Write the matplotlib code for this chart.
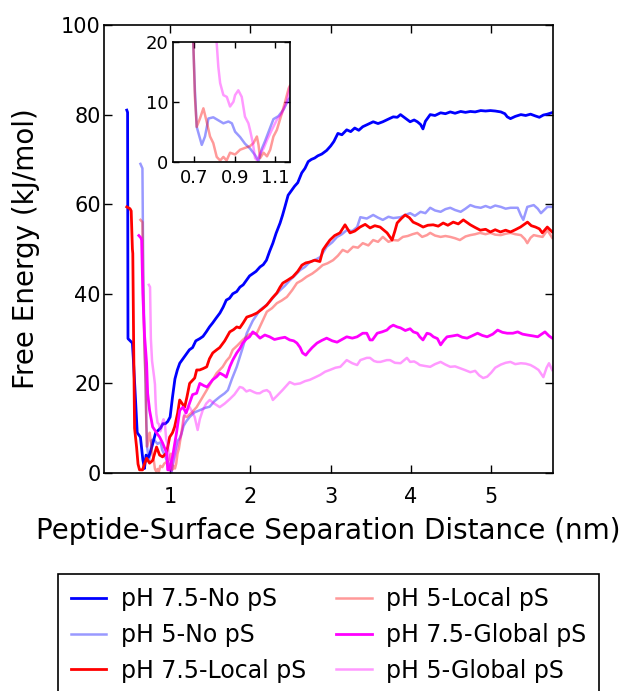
import numpy as np
import matplotlib
matplotlib.use("Agg")
import matplotlib.pyplot as plt

# (distance nm, free energy kJ/mol)
b75 = np.array([
    (0.46, 81), (0.47, 80.5), (0.475, 30), (0.53, 29), (0.54, 26), (0.57, 16), (0.59, 9),
    (0.61, 8.5), (0.63, 8), (0.66, 3), (0.68, 1), (0.70, 4), (0.73, 3.5), (0.76, 5),
    (0.79, 7), (0.82, 9), (0.85, 9.5), (0.88, 10), (0.91, 11), (0.94, 11), (0.97, 11.5),
    (1.00, 12.5), (1.03, 17), (1.06, 21), (1.09, 23), (1.12, 24.5), (1.16, 25.5),
    (1.20, 26.5), (1.24, 27.5), (1.28, 28), (1.32, 29.5), (1.37, 30), (1.41, 30.5),
    (1.45, 31.5), (1.49, 32.6), (1.53, 33.5), (1.57, 34.5), (1.62, 35.7), (1.66, 37),
    (1.70, 38.6), (1.74, 39), (1.78, 40), (1.83, 40.5), (1.87, 41.5), (1.91, 42),
    (1.95, 43), (1.99, 44), (2.03, 44.5), (2.07, 45), (2.12, 46), (2.16, 46.5),
    (2.20, 47.5), (2.24, 49.5), (2.28, 51.3), (2.32, 53.5), (2.37, 55.8), (2.40, 57.5),
    (2.43, 59.4), (2.47, 62), (2.51, 63), (2.55, 64), (2.59, 64.8), (2.64, 67), (2.68, 68),
    (2.72, 69.5), (2.76, 70), (2.80, 70.3), (2.84, 70.8), (2.89, 71.2), (2.95, 72),
    (3.00, 73), (3.04, 74), (3.09, 75.8), (3.14, 75.5), (3.20, 76.6), (3.25, 76.2),
    (3.30, 77), (3.35, 76.5), (3.40, 77.3), (3.46, 77.8), (3.53, 78.4), (3.59, 78.0),
    (3.65, 78.4), (3.72, 79.0), (3.78, 79.5), (3.83, 79.4), (3.87, 80), (3.93, 79.2),
    (3.99, 78.4), (4.04, 78.8), (4.08, 78.4), (4.12, 77.8), (4.15, 76.8), (4.18, 78.5),
    (4.24, 80), (4.30, 79.8), (4.37, 80.4), (4.43, 80.2), (4.49, 80.6), (4.55, 80.3),
    (4.62, 80.7), (4.68, 80.5), (4.74, 80.7), (4.80, 80.6), (4.87, 80.9), (4.93, 80.8),
    (4.99, 80.9), (5.05, 80.8), (5.12, 80.6), (5.17, 80.2), (5.20, 79.5), (5.24, 79.1),
    (5.30, 79.6), (5.37, 80), (5.43, 79.8), (5.49, 80.1), (5.55, 79.7), (5.60, 79.4),
    (5.65, 79.9), (5.70, 80.1), (5.77, 80.5),
])

b5 = np.array([
    (0.63, 69), (0.655, 68), (0.665, 45), (0.68, 30), (0.695, 19.8), (0.703, 12),
    (0.712, 5.9), (0.737, 2.9), (0.753, 4.3), (0.77, 7.3), (0.794, 7.5), (0.819, 7.0),
    (0.844, 6.5), (0.869, 6.8), (0.886, 6.5), (0.902, 5.1), (0.927, 4.2), (0.951, 3.1),
    (0.976, 2.3), (1.001, 1.2), (1.018, 0.2), (1.035, 2.3), (1.05, 3.5), (1.067, 5.0),
    (1.092, 7.2), (1.117, 7.7), (1.142, 8.8), (1.167, 10.5), (1.20, 11.5), (1.243, 12.5),
    (1.30, 13.5), (1.368, 14), (1.43, 14.5), (1.493, 14.8), (1.55, 16), (1.618, 17),
    (1.68, 17.8), (1.72, 18.5), (1.77, 21), (1.83, 23.7), (1.87, 26), (1.905, 28),
    (1.955, 31.2), (2.03, 34), (2.12, 36.4), (2.18, 37.2), (2.24, 38.2), (2.30, 39.5),
    (2.37, 40.8), (2.43, 41.8), (2.49, 43), (2.55, 44), (2.62, 45.3), (2.68, 46),
    (2.74, 47.1), (2.80, 47.5), (2.87, 48.2), (2.95, 50.5), (3.02, 51.5), (3.08, 52.7),
    (3.14, 53.3), (3.20, 54.2), (3.27, 54.0), (3.33, 54.9), (3.37, 57.1), (3.45, 56.8),
    (3.53, 57.6), (3.59, 57.0), (3.65, 56.5), (3.72, 57.2), (3.78, 56.9), (3.87, 57.1),
    (3.93, 57.6), (3.99, 58), (4.05, 57.4), (4.12, 58.3), (4.18, 58.0), (4.24, 59.2),
    (4.30, 58.6), (4.37, 58.3), (4.43, 58.9), (4.49, 59.2), (4.55, 58.7), (4.62, 58.3),
    (4.68, 59.0), (4.74, 59.8), (4.80, 59.4), (4.87, 59.2), (4.93, 59.6), (4.99, 59.2),
    (5.05, 59.7), (5.12, 59.4), (5.18, 59.0), (5.24, 59.2), (5.33, 59.2), (5.37, 57.5),
    (5.40, 56.5), (5.45, 59.4), (5.53, 59.8), (5.58, 59.0), (5.62, 58), (5.70, 59.4),
    (5.77, 59.4),
])

r75 = np.array([
    (0.46, 59.4), (0.50, 59), (0.515, 58.5), (0.53, 50), (0.535, 49), (0.545, 30),
    (0.557, 10), (0.582, 5.8), (0.60, 2), (0.619, 0.7), (0.657, 0.7), (0.68, 2),
    (0.707, 3.3), (0.744, 2.2), (0.782, 2.8), (0.81, 4.5), (0.831, 5.8), (0.869, 4),
    (0.906, 3.6), (0.956, 4.5), (0.994, 8), (1.03, 9), (1.056, 10.3), (1.094, 13.4),
    (1.119, 16.3), (1.15, 15.5), (1.181, 14.7), (1.21, 17), (1.243, 20), (1.306, 21.2),
    (1.331, 23), (1.368, 23), (1.41, 23.3), (1.456, 23.7), (1.49, 25.5), (1.531, 26.8),
    (1.58, 27.5), (1.618, 28), (1.68, 29.5), (1.743, 31.5), (1.79, 32), (1.83, 32.6),
    (1.868, 32.4), (1.91, 33.5), (1.955, 34.8), (2.02, 35.2), (2.08, 35.7), (2.14, 36.5),
    (2.205, 37.5), (2.27, 39), (2.33, 40.2), (2.37, 41.5), (2.404, 42.4), (2.46, 43),
    (2.529, 43.8), (2.59, 45), (2.642, 46.4), (2.69, 46.9), (2.742, 47.1), (2.80, 47.5),
    (2.866, 47.2), (2.904, 49.8), (2.95, 51), (2.991, 52), (3.05, 53), (3.116, 53.6),
    (3.179, 55.4), (3.241, 53.6), (3.30, 54), (3.366, 54.9), (3.43, 55.5), (3.491, 54.7),
    (3.55, 55.2), (3.616, 54.9), (3.703, 53.6), (3.765, 52), (3.80, 54), (3.828, 55.8),
    (3.88, 56.8), (3.928, 57.6), (3.98, 57.0), (4.027, 56), (4.09, 55.5), (4.152, 54.9),
    (4.21, 55.3), (4.277, 55.4), (4.34, 55.1), (4.402, 55.8), (4.46, 55.3), (4.527, 56),
    (4.59, 55.6), (4.653, 56.5), (4.74, 55.4), (4.80, 54.8), (4.865, 54.2), (4.93, 54.4),
    (4.99, 53.8), (5.05, 54.3), (5.115, 53.8), (5.18, 54.2), (5.24, 53.8), (5.30, 54.3),
    (5.365, 54.9), (5.452, 56), (5.50, 55.2), (5.552, 54.9), (5.60, 54.5), (5.637, 53.6),
    (5.699, 54.9), (5.761, 53.8),
])

r5 = np.array([
    (0.63, 56.5), (0.655, 56), (0.665, 40), (0.68, 28), (0.695, 20), (0.703, 10.9),
    (0.712, 5.9), (0.728, 7.3), (0.745, 9.0), (0.761, 6.8), (0.778, 4.3), (0.794, 3.2),
    (0.811, 0.9), (0.828, 0.3), (0.844, 0.9), (0.86, 0.3), (0.877, 1.6), (0.902, 1.3),
    (0.927, 2.1), (0.951, 2.4), (0.976, 2.7), (0.993, 3.2), (1.01, 4.3), (1.018, 2.9),
    (1.026, 0.7), (1.043, 1.6), (1.06, 1.0), (1.076, 2.1), (1.092, 4.3), (1.109, 5.4),
    (1.134, 8.2), (1.15, 10.1), (1.167, 12.3), (1.174, 12.8), (1.206, 12.5), (1.27, 13.5),
    (1.33, 14.7), (1.39, 16.5), (1.456, 18.5), (1.52, 20.5), (1.58, 22.3), (1.655, 23.7),
    (1.70, 25), (1.743, 25.9), (1.78, 27.5), (1.84, 28.5), (1.905, 29.7), (1.99, 31),
    (2.08, 31.2), (2.14, 33.5), (2.205, 36.0), (2.27, 36.8), (2.33, 37.9), (2.39, 38.5),
    (2.455, 39.3), (2.52, 40.8), (2.58, 42.4), (2.64, 43), (2.70, 43.8), (2.77, 44.5),
    (2.83, 45.3), (2.90, 46.4), (2.96, 46.8), (3.03, 47.5), (3.09, 48.5), (3.15, 49.8),
    (3.21, 49.3), (3.28, 50.5), (3.34, 50.3), (3.40, 51.3), (3.47, 50.8), (3.53, 52),
    (3.59, 51.6), (3.65, 52.7), (3.72, 51.6), (3.78, 52), (3.84, 51.9), (3.90, 52.7),
    (3.96, 52.9), (4.02, 53.3), (4.08, 53.6), (4.14, 52.7), (4.20, 53.1), (4.24, 53.6),
    (4.30, 53.0), (4.37, 52.7), (4.43, 52.9), (4.49, 52.7), (4.55, 52.4), (4.61, 52),
    (4.68, 52.8), (4.74, 53.1), (4.80, 53.3), (4.86, 53.6), (4.93, 53.3), (4.99, 53.6),
    (5.05, 53.2), (5.12, 53.1), (5.18, 53.4), (5.24, 53.6), (5.30, 53.3), (5.37, 53.1),
    (5.42, 52.2), (5.45, 51.3), (5.49, 52.5), (5.53, 53.1), (5.58, 52.9), (5.64, 52.7),
    (5.70, 54.2), (5.76, 52.5),
])

m75 = np.array([
    (0.61, 53), (0.635, 52.5), (0.645, 52), (0.66, 40), (0.68, 31), (0.707, 24.5),
    (0.72, 17.8), (0.744, 14), (0.782, 10.3), (0.83, 9), (0.87, 8), (0.906, 6.7),
    (0.956, 4.5), (0.97, 0.7), (0.99, 0.7), (1.03, 3.6), (1.08, 9), (1.12, 14),
    (1.16, 14.7), (1.20, 13.4), (1.24, 15.5), (1.28, 17.5), (1.33, 17.8), (1.37, 20),
    (1.42, 19.5), (1.46, 19.2), (1.53, 20.8), (1.58, 21.5), (1.62, 22.3), (1.67, 21.8),
    (1.70, 21.4), (1.743, 23.7), (1.78, 25.2), (1.83, 26.8), (1.87, 27.8), (1.905, 29),
    (1.95, 29.9), (1.99, 30.4), (2.03, 31.5), (2.07, 31), (2.12, 30.1), (2.18, 30.8),
    (2.24, 30.4), (2.30, 29.8), (2.37, 30.1), (2.43, 30.3), (2.49, 29.7), (2.54, 29.5),
    (2.58, 29), (2.62, 28), (2.65, 26.8), (2.69, 26.3), (2.72, 27), (2.77, 28),
    (2.83, 29), (2.89, 29.6), (2.95, 30.1), (3.02, 29.5), (3.08, 29.2), (3.14, 29.8),
    (3.20, 30.4), (3.27, 30.1), (3.33, 30.4), (3.40, 31.2), (3.45, 31.2), (3.49, 29.7),
    (3.52, 29.7), (3.58, 31.2), (3.64, 31.5), (3.70, 31.9), (3.74, 32.6), (3.78, 33),
    (3.83, 32.6), (3.87, 32.4), (3.93, 31.8), (3.99, 32.2), (4.03, 31.5), (4.08, 31.2),
    (4.11, 30.4), (4.15, 29.7), (4.20, 31.2), (4.24, 31.0), (4.28, 30.4), (4.33, 30.0),
    (4.37, 28.6), (4.41, 29.6), (4.45, 30.4), (4.52, 30.6), (4.58, 30.8), (4.64, 30.3),
    (4.70, 30.1), (4.76, 30.6), (4.83, 31.2), (4.89, 30.7), (4.95, 30.4), (5.02, 31.0),
    (5.08, 31.9), (5.14, 31.4), (5.20, 31.2), (5.27, 31.2), (5.33, 31.5), (5.39, 31.0),
    (5.45, 30.8), (5.52, 30.6), (5.58, 30.4), (5.62, 30.9), (5.67, 31.5), (5.72, 30.6),
    (5.76, 30.1),
])

m5 = np.array([
    (0.735, 42), (0.75, 41.5), (0.76, 30), (0.775, 25), (0.80, 21.5), (0.811, 19.8),
    (0.819, 15.9), (0.828, 13.2), (0.844, 11.2), (0.861, 10.9), (0.877, 9.3), (0.894, 10.1),
    (0.902, 11.2), (0.918, 12.0), (0.935, 10.9), (0.951, 7.6), (0.968, 6.5), (0.976, 5.4),
    (0.99, 3.2), (1.001, 0.7), (1.012, 0.3), (1.026, 1.5), (1.043, 2.3), (1.06, 3.7),
    (1.084, 5.4), (1.109, 7.1), (1.134, 8.2), (1.158, 10.1), (1.174, 12.6), (1.20, 14),
    (1.243, 14.7), (1.28, 13.5), (1.306, 12.5), (1.343, 9.6), (1.37, 12), (1.406, 14),
    (1.45, 15.5), (1.493, 16.3), (1.55, 15.5), (1.618, 14.7), (1.68, 15.5), (1.743, 16.5),
    (1.80, 17.5), (1.868, 19.2), (1.905, 19.0), (1.95, 18.2), (1.993, 18.5), (2.05, 18.0),
    (2.08, 17.8), (2.117, 17.8), (2.16, 18.3), (2.205, 18.5), (2.242, 18.0), (2.28, 16.3),
    (2.33, 17.2), (2.40, 18.5), (2.49, 20.3), (2.55, 19.8), (2.62, 20), (2.68, 20.5),
    (2.74, 20.8), (2.80, 21.3), (2.87, 21.9), (2.93, 22.6), (2.99, 23), (3.06, 23.5),
    (3.12, 23.7), (3.20, 25.2), (3.27, 24.5), (3.33, 24.1), (3.37, 25.2), (3.45, 25.7),
    (3.49, 25.7), (3.54, 25.0), (3.58, 24.8), (3.62, 24.8), (3.70, 25.2), (3.74, 25.2),
    (3.80, 24.6), (3.87, 24.5), (3.95, 25.7), (3.99, 24.8), (4.04, 24.9), (4.08, 24.5),
    (4.11, 24.1), (4.17, 23.9), (4.24, 23.7), (4.30, 24.3), (4.37, 24.8), (4.43, 24.2),
    (4.49, 23.7), (4.55, 23.8), (4.61, 23.4), (4.67, 23.0), (4.74, 22.5), (4.80, 22.8),
    (4.85, 21.8), (4.90, 21.2), (4.95, 21.5), (5.00, 22.4), (5.05, 23.5), (5.12, 24.2),
    (5.18, 24.6), (5.24, 24.8), (5.30, 24.3), (5.37, 24.5), (5.43, 24.4), (5.49, 24.1),
    (5.54, 23.6), (5.59, 23), (5.65, 21.4), (5.69, 23.5), (5.72, 24.5), (5.76, 23),
])

labels = ["pH 7.5-No pS", "pH 5-No pS", "pH 7.5-Local pS",
          "pH 5-Local pS", "pH 7.5-Global pS", "pH 5-Global pS"]
curves = [b75, b5, r75, r5, m75, m5]
colors = ["#0000ff", "#0000ff", "#ff0000", "#ff0000", "#ff00ff", "#ff00ff"]
alphas = [1.0, 0.4, 1.0, 0.4, 1.0, 0.4]
widths = [2.0, 1.8, 2.0, 1.8, 2.0, 1.8]

W, H = 626, 691
fig = plt.figure(figsize=(W / 100, H / 100), dpi=100)

# main panel
ax = fig.add_axes([103.5 / W, 1 - 473 / H, 449.5 / W, 448 / H])
handles = []
for arr, lab, c, a, lw in zip(curves, labels, colors, alphas, widths):
    ln, = ax.plot(arr[:, 0], arr[:, 1], color=c, alpha=a, lw=lw, label=lab)
    handles.append(ln)

ax.set_xlim(0.17, 5.77)
ax.set_ylim(0, 100)
ax.set_xticks([1, 2, 3, 4, 5])
ax.set_yticks([0, 20, 40, 60, 80, 100])
ax.tick_params(direction="in", top=True, right=True, labelsize=15, length=6, width=1)
ax.tick_params(axis="x", pad=10)
ax.tick_params(axis="y", pad=2)
ax.set_xlabel("Peptide-Surface Separation Distance (nm)", fontsize=20, labelpad=7)
ax.set_ylabel("Free Energy (kJ/mol)", fontsize=20, labelpad=15)
for s in ax.spines.values():
    s.set_linewidth(1.2)

# inset: close-up of the pH 5 minima
axin = fig.add_axes([172.7 / W, 1 - 162.3 / H, 117.3 / W, 120 / H])
for arr, c, a, lw in zip(curves[1::2], colors[1::2], alphas[1::2], widths[1::2]):
    axin.plot(arr[:, 0], arr[:, 1], color=c, alpha=a, lw=lw)
axin.set_xlim(0.593, 1.174)
axin.set_ylim(0, 20)
axin.set_xticks([0.7, 0.9, 1.1])
axin.set_yticks([0, 10, 20])
axin.tick_params(direction="in", top=True, right=True, labelsize=13, length=4, width=1)
axin.tick_params(axis="x", pad=5)
axin.tick_params(axis="y", pad=3)
for s in axin.spines.values():
    s.set_linewidth(1.2)

leg = fig.legend(handles, labels, loc="upper left",
                 bbox_to_anchor=(58 / W, 0, 541 / W, 1 - 574 / H),
                 mode="expand", ncol=2, fontsize=17, handlelength=1.5,
                 handletextpad=0.6, labelspacing=0.5, borderpad=0.55,
                 borderaxespad=0, fancybox=False, edgecolor="black", framealpha=1)
leg.get_frame().set_linewidth(1.2)

fig.savefig("out.png", dpi=100)
